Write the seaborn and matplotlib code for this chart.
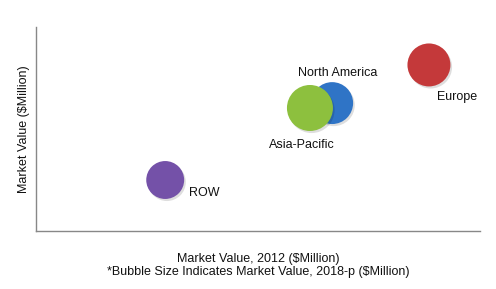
import matplotlib
matplotlib.use("Agg")
import matplotlib.pyplot as plt
import matplotlib.transforms as mtransforms
import seaborn as sns
import pandas as pd

regions = ["Europe", "North America", "Asia-Pacific", "ROW"]
value_2012 = [88.5, 66.7, 61.7, 29.1]
value_y = [81.4, 62.7, 60.3, 25.0]
value_2018 = [1850, 1760, 2120, 1440]
colors = ["#C4393A", "#2F74C6", "#8DC03E", "#7451A8"]

df = pd.DataFrame({"region": regions, "x": value_2012, "y": value_y, "size": value_2018})

sns.set_style("white")
plt.rcParams['font.family'] = ['Liberation Sans', 'DejaVu Sans']

fig = plt.figure(figsize=(4.96, 2.89), dpi=100)
ax = fig.add_axes([36/496, 58/289, 444/496, 204/289])

for r, c in zip(regions, colors):
    sub = df[df["region"] == r]
    # soft shadow
    sns.scatterplot(data=sub, x="x", y="y", size="size", sizes=(0, 1097), size_norm=(0, 2120),
                    color="#000000", alpha=0.13, edgecolor="none", legend=False, ax=ax)
    ax.collections[-1].set_offset_transform(
        mtransforms.offset_copy(ax.transData, fig=fig, x=1.2, y=-1.5, units="points"))
    sns.scatterplot(data=sub, x="x", y="y", size="size", sizes=(0, 1097), size_norm=(0, 2120),
                    color=c, edgecolor="none", legend=False, ax=ax)

ax.set_xlim(0, 100)
ax.set_ylim(0, 100)
ax.set_xticks([])
ax.set_yticks([])
for s in ["top", "right"]:
    ax.spines[s].set_visible(False)
for s in ["left", "bottom"]:
    ax.spines[s].set_color("#888888")
    ax.spines[s].set_linewidth(1.0)

label_pos = {"Europe": (94.8, 65.5),
             "North America": (68.0, 77.5),
             "Asia-Pacific": (59.9, 42.0),
             "ROW": (38.0, 18.8)}
for r in regions:
    lx, ly = label_pos[r]
    ax.text(lx, ly, r, fontsize=9, ha="center", va="center", color="#111111")

ax.set_xlabel("Market Value, 2012 ($Million)\n*Bubble Size Indicates Market Value, 2018-p ($Million)",
              fontsize=9, labelpad=16, linespacing=1.05, color="#111111")
ax.set_ylabel("Market Value ($Million)", fontsize=9, labelpad=4, color="#111111")

fig.savefig("out.png", dpi=100, facecolor="white")
